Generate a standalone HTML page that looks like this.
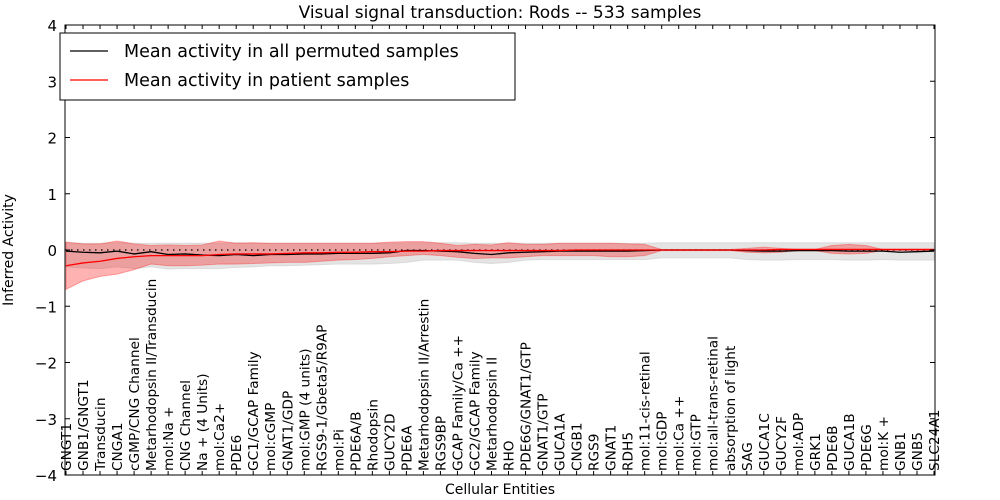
<!DOCTYPE html>
<html><head><meta charset="utf-8"><style>
body{margin:0;background:#fff;}
svg{display:block;font-family:"DejaVu Sans","Liberation Sans",sans-serif;}
</style></head><body>
<svg id="chart" width="1000" height="500"></svg>
<script>
const categories=["GNGT1","GNB1/GNGT1","Transducin","CNGA1","cGMP/CNG Channel","Metarhodopsin II/Transducin","mol:Na +","CNG Channel","Na + (4 Units)","mol:Ca2+","PDE6","GC1/GCAP Family","mol:cGMP","GNAT1/GDP","mol:GMP (4 units)","RGS9-1/Gbeta5/R9AP","mol:Pi","PDE6A/B","Rhodopsin","GUCY2D","PDE6A","Metarhodopsin II/Arrestin","RGS9BP","GCAP Family/Ca ++","GC2/GCAP Family","Metarhodopsin II","RHO","PDE6G/GNAT1/GTP","GNAT1/GTP","GUCA1A","CNGB1","RGS9","GNAT1","RDH5","mol:11-cis-retinal","mol:GDP","mol:Ca ++","mol:GTP","mol:all-trans-retinal","absorption of light","SAG","GUCA1C","GUCY2F","mol:ADP","GRK1","PDE6B","GUCA1B","PDE6G","mol:K +","GNB1","GNB5","SLC24A1"];
const permMean=[-0.02,-0.04,-0.05,-0.02,-0.07,-0.03,-0.08,-0.07,-0.09,-0.10,-0.08,-0.10,-0.08,-0.08,-0.07,-0.07,-0.06,-0.06,-0.06,-0.05,-0.01,-0.01,-0.02,-0.03,-0.06,-0.08,-0.05,-0.04,-0.03,-0.02,-0.02,-0.02,-0.02,-0.02,-0.01,0,0,0,0,0,-0.01,-0.02,-0.02,-0.01,-0.01,-0.01,-0.02,-0.02,-0.02,-0.04,-0.03,-0.02];
const permUpper=[0.13,0.12,0.12,0.13,0.12,0.12,0.12,0.12,0.12,0.12,0.13,0.12,0.12,0.12,0.12,0.12,0.12,0.12,0.12,0.12,0.13,0.13,0.13,0.13,0.12,0.12,0.12,0.12,0.12,0.12,0.12,0.12,0.12,0.12,0.12,0.13,0.13,0.13,0.13,0.13,0.13,0.13,0.13,0.13,0.13,0.13,0.13,0.13,0.13,0.13,0.13,0.13];
const permLower=[-0.30,-0.32,-0.33,-0.30,-0.33,-0.30,-0.34,-0.33,-0.33,-0.33,-0.31,-0.30,-0.28,-0.28,-0.27,-0.26,-0.25,-0.25,-0.25,-0.24,-0.22,-0.18,-0.18,-0.18,-0.22,-0.24,-0.22,-0.18,-0.17,-0.17,-0.17,-0.17,-0.17,-0.17,-0.17,-0.14,-0.14,-0.14,-0.14,-0.14,-0.17,-0.18,-0.18,-0.17,-0.17,-0.17,-0.18,-0.18,-0.17,-0.18,-0.18,-0.18];
const patMean=[-0.28,-0.23,-0.2,-0.15,-0.12,-0.10,-0.10,-0.10,-0.10,-0.08,-0.07,-0.07,-0.07,-0.06,-0.05,-0.05,-0.04,-0.04,-0.03,-0.03,-0.02,-0.02,-0.01,-0.01,-0.01,-0.01,-0.01,-0.01,-0.01,-0.01,0,0,0,0,0,0,0,0,0,0,0,0,0.01,0.01,0.01,0.01,0.01,0.01,0.01,0.01,0.01,0.01];
const patUpper=[0.14,0.11,0.11,0.16,0.11,0.08,0.09,0.08,0.09,0.16,0.12,0.13,0.12,0.12,0.12,0.12,0.12,0.12,0.12,0.14,0.15,0.15,0.12,0.08,0.10,0.09,0.13,0.10,0.10,0.12,0.12,0.12,0.12,0.11,0.10,0.01,0.01,0.01,0.01,0.01,0.03,0.05,0.03,0.01,0.01,0.08,0.10,0.08,0.01,0.01,0.01,0.01];
const patLower=[-0.70,-0.55,-0.47,-0.43,-0.35,-0.25,-0.28,-0.28,-0.27,-0.25,-0.25,-0.24,-0.23,-0.22,-0.22,-0.20,-0.18,-0.17,-0.15,-0.12,-0.10,-0.08,-0.10,-0.13,-0.15,-0.14,-0.14,-0.12,-0.10,-0.10,-0.10,-0.10,-0.12,-0.12,-0.10,-0.01,-0.01,-0.01,-0.01,-0.01,-0.04,-0.05,-0.04,-0.01,-0.01,-0.06,-0.07,-0.06,-0.01,-0.01,-0.01,-0.01];
const yTicks=[-4,-3,-2,-1,0,1,2,3,4];

const svg=document.getElementById('chart');
const NS='http://www.w3.org/2000/svg';
const L=65,R=935,T=25,B=475;
const x=i=>L+1+i*(R-L-2)/(categories.length-1);
const y=v=>T+(4-v)/8*(B-T);
function mk(tag,attrs,parent){const e=document.createElementNS(NS,tag);for(const k in attrs)e.setAttribute(k,attrs[k]);(parent||svg).appendChild(e);return e;}
function band(up,lo,fill,op,name){
  let d='M'+up.map((v,i)=>x(i)+','+y(v)).join('L');
  for(let i=lo.length-1;i>=0;i--)d+='L'+x(i)+','+y(lo[i]);
  const p=mk('path',{d:d+'Z',fill:fill,'fill-opacity':op,stroke:fill,'stroke-opacity':op,'stroke-width':1});
  
  
}
function line(vals,col,name){
  const p=mk('polyline',{points:vals.map((v,i)=>x(i)+','+y(v)).join(' '),fill:'none',stroke:col,'stroke-width':1.3});
  
  
}
band(permUpper,permLower,'#bbbbbb',0.4,'permuted-band');
band(patUpper,patLower,'#ff0000',0.3,'patient-band');
const zl=mk('line',{x1:L,x2:R,y1:y(0),y2:y(0),stroke:'#000','stroke-width':1.2,'stroke-dasharray':'1.5,4.5'});


line(permMean,'#000','permuted-mean-line');
line(patMean,'#ff0000','patient-mean-line');
const fr=mk('rect',{x:L,y:T,width:R-L,height:B-T,fill:'none',stroke:'#000','stroke-width':1});


yTicks.forEach(v=>{
  mk('line',{x1:L,x2:L+5,y1:y(v),y2:y(v),stroke:'#000'});
  mk('line',{x1:R,x2:R-5,y1:y(v),y2:y(v),stroke:'#000'});
  const t=mk('text',{x:L-8,y:y(v)+6,'text-anchor':'end','font-size':15});
  t.textContent=(v<0?'\u2212':'')+Math.abs(v);
  
  
});
categories.forEach((c,i)=>{
  mk('line',{x1:x(i),x2:x(i),y1:B,y2:B-4,stroke:'#000'});
  mk('line',{x1:x(i),x2:x(i),y1:T,y2:T+4,stroke:'#000'});
  const t=mk('text',{transform:'translate('+(x(i)+5)+','+(B-4)+') rotate(-90)','font-size':13.7});
  t.textContent=c;
  
  
});
const title=mk('text',{x:500,y:18,'text-anchor':'middle','font-size':17});
title.textContent='Visual signal transduction: Rods -- 533 samples';


const xt=mk('text',{x:500,y:494,'text-anchor':'middle','font-size':14});
xt.textContent='Cellular Entities';


const yt=mk('text',{transform:'translate(13,250) rotate(-90)','text-anchor':'middle','font-size':14});
yt.textContent='Inferred Activity';


const lg=mk('g',{});


mk('rect',{x:60,y:33,width:455,height:67,fill:'#fff',stroke:'#000'},lg);
mk('line',{x1:70,x2:108,y1:51,y2:51,stroke:'#000','stroke-width':1.3},lg);
mk('line',{x1:70,x2:108,y1:80,y2:80,stroke:'#f00','stroke-width':1.3},lg);
const l1=mk('text',{x:124,y:57,'font-size':17.5},lg);l1.textContent='Mean activity in all permuted samples';


const l2=mk('text',{x:124,y:86,'font-size':17.5},lg);l2.textContent='Mean activity in patient samples';


</script>
</body></html>
